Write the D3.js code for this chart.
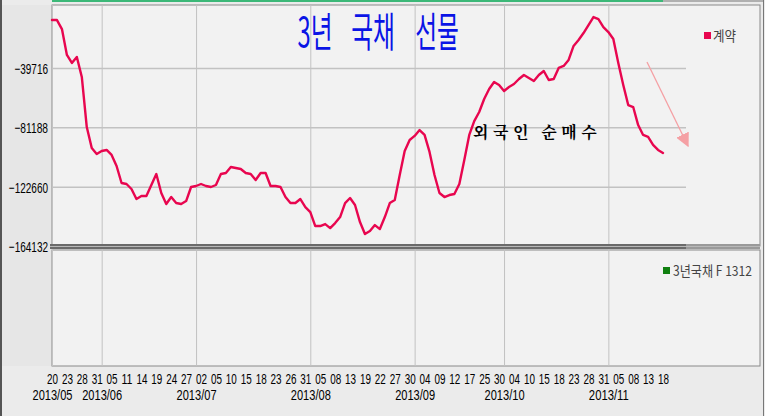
<!DOCTYPE html>
<html><head><meta charset="utf-8">
<script src="https://cdn.jsdelivr.net/npm/d3@7"></script>
<style>body{margin:0;background:#ebebeb;}svg{display:block;}</style>
</head><body>
<svg id="c" width="765" height="416"></svg>
<script>
// trading days (MM/DD), 2013
const dates = [
"05/20","05/21","05/22","05/23","05/24","05/27","05/28","05/29","05/30","05/31",
"06/03","06/04","06/05","06/07","06/10","06/11","06/12","06/13","06/14","06/17","06/18","06/19","06/20","06/21","06/24","06/25","06/26","06/27","06/28",
"07/01","07/02","07/03","07/04","07/05","07/08","07/09","07/10","07/11","07/12","07/15","07/16","07/17","07/18","07/19","07/22","07/23","07/24","07/25","07/26","07/29","07/30","07/31",
"08/01","08/02","08/05","08/06","08/07","08/08","08/09","08/12","08/13","08/14","08/16","08/19","08/20","08/21","08/22","08/23","08/26","08/27","08/28","08/29","08/30",
"09/02","09/03","09/04","09/05","09/06","09/09","09/10","09/11","09/12","09/13","09/16","09/17","09/23","09/24","09/25","09/26","09/27","09/30",
"10/01","10/02","10/04","10/07","10/08","10/10","10/11","10/14","10/15","10/16","10/17","10/18","10/21","10/22","10/23","10/24","10/25","10/28","10/29","10/30","10/31",
"11/01","11/04","11/05","11/06","11/07","11/08","11/11","11/12","11/13","11/14","11/15","11/18"];

// 계약 (contracts, cumulative net)
const values = [
-6200,-6200,-12500,-30600,-36200,-32000,-46000,-81000,-95600,-99800,
-97700,-97000,-100500,-108200,-120100,-120800,-124300,-131300,-129200,-129200,-121500,-113800,-127100,-134800,-129900,-134100,-134800,-132700,-122900,
-122200,-120800,-122200,-122900,-121500,-113800,-113100,-108900,-109600,-110300,-113100,-113800,-118000,-113100,-113100,-122200,-122200,-122900,-129900,-134100,-134100,-131300,-136900,
-140400,-150200,-150200,-148800,-151600,-148100,-143900,-134100,-130600,-135500,-147400,-155800,-153700,-149500,-152300,-143900,-134100,-132000,-114500,-97700,-90000,
-87200,-83100,-86500,-98400,-114500,-127100,-129900,-128500,-127800,-120800,-104000,-86500,-76800,-70500,-61400,-54400,-49500,-51600,
-55800,-53000,-50900,-47400,-44600,-46700,-48800,-44600,-41800,-48100,-47400,-39700,-38300,-34100,-24300,-20100,-15300,-9700,-4100,-5500,-11100,
-14600,-19400,-36200,-51600,-65600,-67000,-79600,-86500,-87900,-93500,-97000,-99100];

const yTicks = [-39716, -81188, -122660, -164132];
const dayTicks = ["05/20","05/23","05/28","05/31","06/05","06/11","06/14","06/19","06/24","06/27",
"07/02","07/05","07/10","07/15","07/18","07/23","07/26","07/31","08/05","08/08","08/13","08/19","08/22","08/27","08/30",
"09/04","09/09","09/12","09/17","09/25","09/30","10/04","10/10","10/15","10/18","10/23","10/28","10/31","11/05","11/08","11/13","11/18"];
const monthTicks = ["05/20","06/03","07/01","08/01","09/02","10/01","11/01"];
const monthLabels = ["2013/05","2013/06","2013/07","2013/08","2013/09","2013/10","2013/11"];
const titleWords = ["3년","국채","선물"];
const seriesName = "계약";
const lowerLegend = "3년국채 F 1312";
const note = "외국인 순매수";

const svg = d3.select("#c");
const L = 52, R = 760, T = 5, SEP = 246, LT = 250, LB = 366, GR = 686;
const FONT = "Liberation Sans, Arial, sans-serif";

const x = d3.scalePoint().domain(dates).range([52, 663]);
const y = d3.scaleLinear().domain([-164132, -39716]).range([SEP, 68]);

// backgrounds
svg.append("rect").attr("width",765).attr("height",416).attr("fill","#ebebeb");
svg.append("rect").attr("x",1).attr("y",T).attr("width",L-1).attr("height",LB-T).attr("fill","#e6e6e6");
svg.append("rect").attr("x",L).attr("y",T).attr("width",R-L).attr("height",SEP-T).attr("fill","#f2f2f2").attr("stroke","#8a8a8a");
svg.append("rect").attr("x",L).attr("y",LT).attr("width",R-L).attr("height",LB-LT).attr("fill","#f2f2f2").attr("stroke","#8a8a8a");
svg.append("line").attr("x1",L).attr("x2",663).attr("y1",1).attr("y2",1).attr("stroke","#3cb878").attr("stroke-width",2);
svg.append("line").attr("x1",663).attr("x2",764).attr("y1",1).attr("y2",1).attr("stroke","#b0b0b0").attr("stroke-width",2);
svg.append("line").attr("x1",1).attr("x2",1).attr("y1",0).attr("y2",416).attr("stroke","#555").attr("stroke-width",2);
svg.append("line").attr("x1",763.5).attr("x2",763.5).attr("y1",0).attr("y2",416).attr("stroke","#777");

// vertical grid at month starts
const vgrid = svg.append("g").attr("transform",`translate(0,${LB})`)
  .call(d3.axisBottom(x).tickValues(monthTicks).tickSize(-(LB-T)).tickFormat(""));
vgrid.select(".domain").remove();
vgrid.selectAll("line").attr("stroke","#c2c2c2");

// horizontal grid
const hgrid = svg.append("g").attr("transform",`translate(${L},0)`)
  .call(d3.axisLeft(y).tickValues(yTicks).tickSize(-(GR-L)).tickFormat(""));
hgrid.select(".domain").remove();
hgrid.selectAll("line").attr("stroke","#c2c2c2").attr("stroke-width",1.5);

// separator
svg.append("rect").attr("x",50).attr("y",244).attr("width",GR-50).attr("height",5).attr("fill","#6a6a6a");
svg.append("rect").attr("x",GR).attr("y",244).attr("width",R-GR).attr("height",5).attr("fill","#9a9a9a");
svg.append("line").attr("x1",50).attr("x2",R).attr("y1",246.5).attr("y2",246.5).attr("stroke","#b8b8b8");

// y axis labels
const ya = svg.append("g").attr("transform",`translate(${L},0)`)
  .call(d3.axisLeft(y).tickValues(yTicks).tickSize(0).tickPadding(4).tickFormat(d3.format("d")));
ya.select(".domain").remove();
ya.selectAll("text").attr("dy","0.36em")
  .attr("font-family",FONT).attr("font-size",15).attr("fill","#000")
  .attr("textLength", function(){ return this.textContent.length * 5.6; })
  .attr("lengthAdjust","spacingAndGlyphs");

// x axis day labels
const xa = svg.append("g").attr("transform",`translate(0,373.5)`)
  .call(d3.axisBottom(x).tickValues(dayTicks).tickSize(0).tickPadding(0).tickFormat(d => d.slice(3)));
xa.select(".domain").remove();
xa.selectAll("text").attr("y",0).attr("dy","0.72em")
  .attr("font-family",FONT).attr("font-size",14).attr("fill","#000")
  .attr("textLength",11).attr("lengthAdjust","spacingAndGlyphs");

// month labels
const ma = svg.append("g").attr("transform",`translate(0,389.5)`)
  .call(d3.axisBottom(x).tickValues(monthTicks).tickSize(0).tickPadding(0).tickFormat((d,i) => monthLabels[i]));
ma.select(".domain").remove();
ma.selectAll("text").attr("y",0).attr("dy","0.72em")
  .attr("font-family",FONT).attr("font-size",14).attr("fill","#000")
  .attr("textLength",40).attr("lengthAdjust","spacingAndGlyphs");

// series line
const line = d3.line().x((d,i) => x(dates[i])).y(d => y(d)).curve(d3.curveLinear);
svg.append("path").datum(values).attr("d",line).attr("fill","none")
  .attr("stroke","#e8064f").attr("stroke-width",2.4).attr("stroke-linejoin","round").attr("stroke-linecap","round");

// title
const titleX = [315, 373, 437];
titleWords.forEach((w,i) => {
  svg.append("text").attr("transform",`translate(${titleX[i]},47) scale(0.95,1.65)`)
    .attr("text-anchor","middle").attr("font-family","Noto Sans CJK KR, sans-serif")
    .attr("font-size",25).attr("fill","#0a14e6").text(w);
});

// legend upper
svg.append("rect").attr("x",704).attr("y",32).attr("width",7).attr("height",7).attr("fill","#e8064f");
svg.append("text").attr("x",713).attr("y",41).attr("font-family","Noto Sans CJK KR, sans-serif")
  .attr("font-size",14).attr("fill","#444").attr("textLength",23).attr("lengthAdjust","spacingAndGlyphs").text(seriesName);

// legend lower
svg.append("rect").attr("x",663).attr("y",267).attr("width",7).attr("height",7).attr("fill","#108010");
svg.append("text").attr("x",673).attr("y",276).attr("font-family","Noto Sans CJK KR, sans-serif")
  .attr("font-size",14).attr("fill","#444").attr("textLength",79).attr("lengthAdjust","spacingAndGlyphs").text(lowerLegend);

// annotation
svg.append("text").attr("x",473).attr("y",138).attr("font-family","Noto Serif CJK KR, Noto Sans CJK KR, serif")
  .attr("font-size",16).attr("font-weight","bold").attr("letter-spacing",4.5).attr("fill","#000").text(note);

// arrow
svg.append("defs").append("marker").attr("id","ah").attr("viewBox","0 0 10 10").attr("refX",9).attr("refY",5)
  .attr("markerWidth",14).attr("markerHeight",14).attr("markerUnits","userSpaceOnUse").attr("orient","auto")
  .append("path").attr("d","M0,0 L10,5 L0,10 z").attr("fill","#f5a0a4");
svg.append("line").attr("x1",647).attr("y1",62).attr("x2",688).attr("y2",146)
  .attr("stroke","#f5a0a4").attr("stroke-width",1.3).attr("marker-end","url(#ah)");
</script>
</body></html>
